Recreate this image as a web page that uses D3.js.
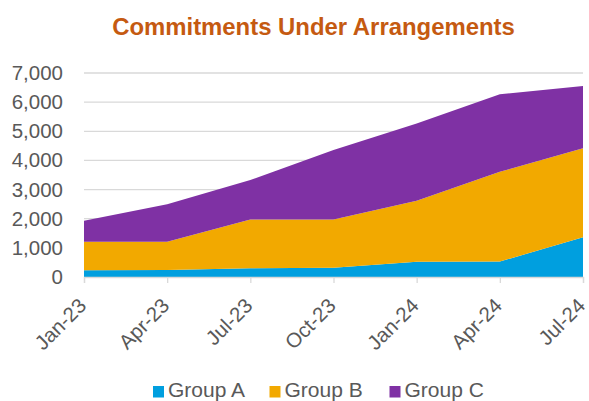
<!DOCTYPE html>
<html>
<head>
<meta charset="utf-8">
<script src="https://cdn.jsdelivr.net/npm/d3@7/dist/d3.min.js"></script>
<style>
  html, body { margin: 0; padding: 0; background: #fff; }
  svg { display: block; font-family: "Liberation Sans", Arial, sans-serif; }
</style>
</head>
<body>
<svg id="chart" width="589" height="401"></svg>
<script>
// Quarterly commitments, stacked by group
const quarters = ["Jan-23", "Apr-23", "Jul-23", "Oct-23", "Jan-24", "Apr-24", "Jul-24"];
const groupA = [230, 240, 300, 320, 525, 530, 1360];
const groupB = [980, 970, 1670, 1650, 2095, 3080, 3060];
const groupC = [720, 1290, 1360, 2390, 2650, 2660, 2130];
const seriesNames = ["Group A", "Group B", "Group C"];
const seriesColors = ["#009FDF", "#F2A900", "#7F31A4"];
const yTicks = [0, 1000, 2000, 3000, 4000, 5000, 6000, 7000];

const rows = quarters.map((q, i) => ({
  quarter: q,
  "Group A": groupA[i],
  "Group B": groupB[i],
  "Group C": groupC[i]
}));

const svg = d3.select("#chart");
const plotLeft = 84, plotRight = 583, plotTop = 73, plotBottom = 277;
const labelSize = 20.5;

const x = d3.scalePoint().domain(quarters).range([plotLeft, plotRight]);
const y = d3.scaleLinear().domain([0, 7000]).range([plotBottom, plotTop]);

// Title
svg.append("text")
  .attr("x", 313.5).attr("y", 35)
  .attr("text-anchor", "middle")
  .attr("font-size", 23.9).attr("font-weight", "bold")
  .attr("fill", "#C55A11")
  .text("Commitments Under Arrangements");

// Horizontal gridlines
svg.append("g")
  .selectAll("line")
  .data(yTicks.filter(d => d > 0))
  .join("line")
  .attr("x1", plotLeft).attr("x2", plotRight)
  .attr("y1", d => y(d)).attr("y2", d => y(d))
  .attr("stroke", "#D9D9D9").attr("stroke-width", 1.3);

// Stacked areas
const stack = d3.stack().keys(seriesNames);
const layers = stack(rows);
const area = d3.area()
  .x(d => x(d.data.quarter))
  .y0(d => y(d[0]))
  .y1(d => y(d[1]));

svg.append("g")
  .selectAll("path")
  .data(layers)
  .join("path")
  .attr("d", area)
  .attr("fill", (d, i) => seriesColors[i]);

// Y axis labels
const yAxis = d3.axisLeft(y).tickValues(yTicks).tickFormat(d3.format(",")).tickSize(0).tickPadding(21);
const yg = svg.append("g").attr("transform", `translate(${plotLeft},0)`).call(yAxis);
yg.select(".domain").remove();
yg.selectAll("text")
  .attr("font-size", labelSize)
  .attr("font-family", "Liberation Sans, Arial, sans-serif")
  .attr("fill", "#595959");

// X axis with rotated quarter labels
const xAxis = d3.axisBottom(x).tickSize(6).tickPadding(0);
const xg = svg.append("g").attr("transform", `translate(0,${plotBottom})`).call(xAxis);
xg.select(".domain").attr("stroke", "#D9D9D9").attr("stroke-width", 1.3);
xg.selectAll(".tick line").attr("stroke", "#D9D9D9").attr("stroke-width", 1.3);
xg.selectAll("text")
  .attr("font-size", labelSize)
  .attr("font-family", "Liberation Sans, Arial, sans-serif")
  .attr("fill", "#595959")
  .attr("text-anchor", "end")
  .attr("x", 0).attr("y", 0).attr("dy", null)
  .attr("transform", "translate(3,30) rotate(-45)");

// Legend
const legendItems = [
  { name: "Group A", sx: 153 },
  { name: "Group B", sx: 269.5 },
  { name: "Group C", sx: 389.5 }
];
const lg = svg.append("g");
legendItems.forEach((item, i) => {
  lg.append("rect")
    .attr("x", item.sx).attr("y", 386)
    .attr("width", 11).attr("height", 11.5)
    .attr("fill", seriesColors[i]);
  lg.append("text")
    .attr("x", item.sx + 15).attr("y", 397.3)
    .attr("font-size", 21)
    .attr("fill", "#595959")
    .text(item.name);
});
</script>
</body>
</html>
